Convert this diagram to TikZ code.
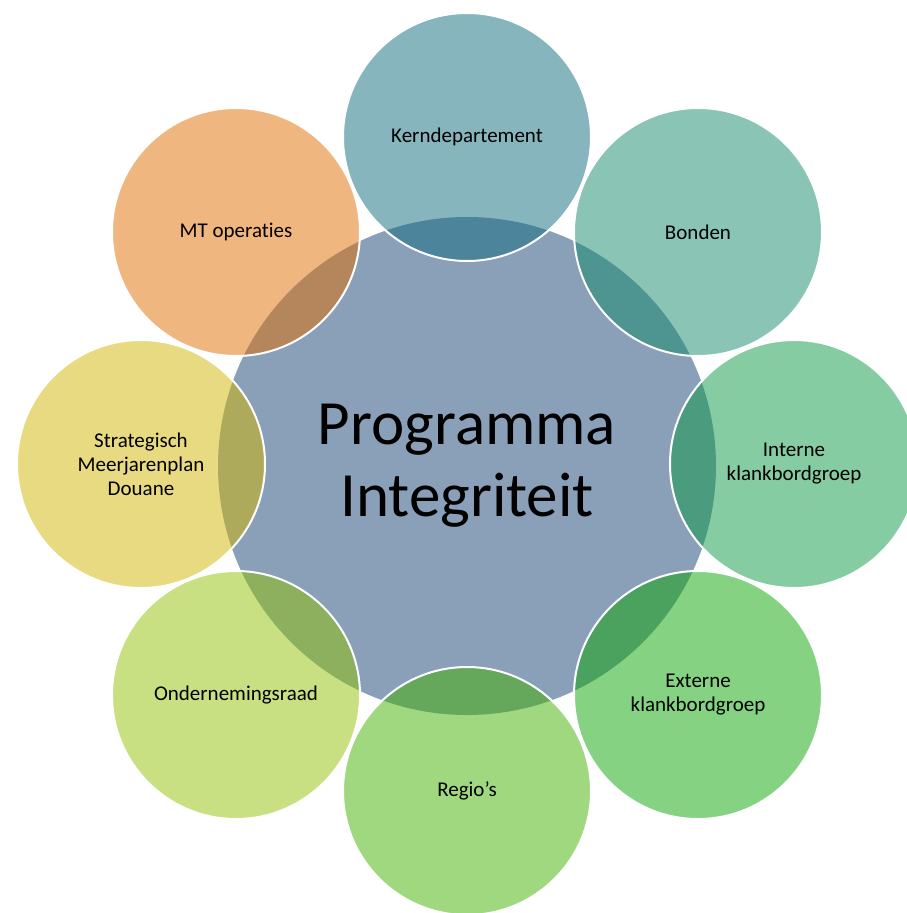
\documentclass[tikz,border=0pt]{standalone}
\usepackage{fontspec}
\setmainfont[Ligatures=NoCommon]{Carlito}
\usetikzlibrary{positioning}

\definecolor{progcol}{RGB}{138,160,185}
\definecolor{kerncol}{RGB}{15,108,126}
\definecolor{bondencol}{RGB}{19,137,107}
\definecolor{internecol}{RGB}{13,153,69}
\definecolor{externecol}{RGB}{11,165,5}
\definecolor{regiocol}{RGB}{65,177,1}
\definecolor{orcol}{RGB}{145,193,5}
\definecolor{smpcol}{RGB}{209,181,1}
\definecolor{mtcol}{RGB}{225,109,1}

\tikzset{
    hub/.style={circle, fill=progcol, minimum size=498pt, inner sep=0pt, align=center,
        font=\fontsize{63}{72}\selectfont},
    spoke/.style={circle, fill=#1, fill opacity=0.5, text opacity=1, draw=white, line width=2pt,
        minimum size=248pt, inner sep=0pt, align=center, font=\fontsize{21}{24}\selectfont}
}

\begin{document}
\begin{tikzpicture}[x=1pt, y=-1pt]
        \useasboundingbox (0, 0) rectangle (907, 913);
        \node[hub] (prog) at (467, 466) {Programma\\Integriteit};
        \node[spoke=kerncol] (kern) at (467, 137) {Kerndepartement};
        \node[spoke=bondencol] (bonden) at (698, 232) {Bonden};
        \node[spoke=internecol] (interne) at (794, 464) {Interne\\klankbordgroep};
        \node[spoke=externecol] (externe) at (698, 695) {Externe\\klankbordgroep};
        \node[spoke=regiocol] (regio) at (467, 791) {Regio’s};
        \node[spoke=orcol] (or) at (236, 695) {Ondernemingsraad};
        \node[spoke=smpcol] (smp) at (141, 464) {Strategisch\\Meerjarenplan\\Douane};
        \node[spoke=mtcol] (mt) at (236, 232) {MT operaties};
    \end{tikzpicture}
\end{document}
